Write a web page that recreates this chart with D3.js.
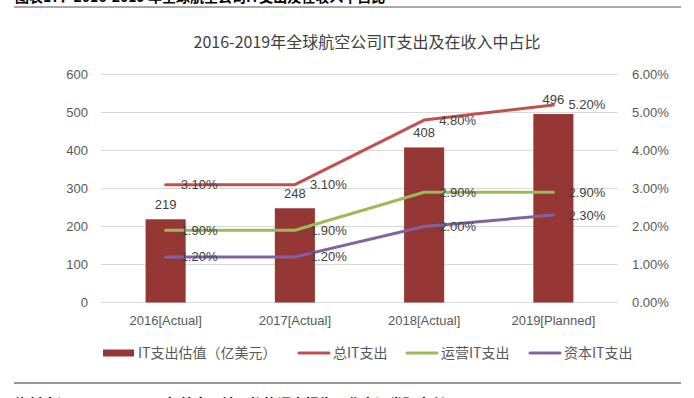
<!DOCTYPE html>
<html>
<head>
<meta charset="utf-8">
<script src="https://cdn.jsdelivr.net/npm/d3@7"></script>
<style>
  body { margin: 0; background: #fff; }
  text { font-family: "Liberation Sans", Arial, sans-serif; }
  .cjk { font-family: "Noto Sans CJK SC", sans-serif; }
</style>
</head>
<body>
<script>
// chart data
const categories = ['2016[Actual]', '2017[Actual]', '2018[Actual]', '2019[Planned]']
const itSpend = [219, 248, 408, 496]        // 亿美元
const totalPct = [3.1, 3.1, 4.8, 5.2]       // 总IT支出
const opPct = [1.9, 1.9, 2.9, 2.9]          // 运营IT支出
const capPct = [1.2, 1.2, 2.0, 2.3]         // 资本IT支出
const leftTicks = [0, 100, 200, 300, 400, 500, 600]
const rightTicks = [0, 1, 2, 3, 4, 5, 6]
const seriesNames = ['IT支出估值（亿美元）', '总IT支出', '运营IT支出', '资本IT支出']

const W = 694, H = 398
const plot = {left: 101, right: 618, top: 74.5, bottom: 302.5}

const svg = d3.select('body').append('svg')
  .attr('width', W).attr('height', H)

// page header / footer rules (cropped report page)
svg.append('text')
  .attr('x', 15).attr('y', 2)
  .attr('class', 'cjk')
  .attr('font-size', 14).attr('font-weight', 'bold').attr('fill', '#000')
  .text('图表17：2016-2019 年全球航空公司IT支出及在收入中占比')
svg.append('line')
  .attr('x1', 14).attr('x2', 681).attr('y1', 7).attr('y2', 7)
  .attr('stroke', '#555').attr('stroke-width', 1.2)
svg.append('line')
  .attr('x1', 14).attr('x2', 681).attr('y1', 383).attr('y2', 383)
  .attr('stroke', '#333').attr('stroke-width', 1.2)
svg.append('text')
  .attr('x', 15).attr('y', 409)
  .attr('class', 'cjk')
  .attr('font-size', 14).attr('font-weight', 'bold').attr('fill', '#000')
  .text('资料来源：SITA，2018 年航空运输IT趋势调查报告，华泰证券研究所')

// title
svg.append('text')
  .attr('x', 367).attr('y', 48)
  .attr('text-anchor', 'middle')
  .attr('class', 'cjk')
  .attr('font-size', 16).attr('fill', '#404040')
  .text('2016-2019年全球航空公司IT支出及在收入中占比')

// scales
const x = d3.scaleBand().domain(categories)
  .range([plot.left, plot.right])
  .paddingInner(0.69).paddingOuter(0.345)
const cx = c => x(c) + x.bandwidth() / 2
const y = d3.scaleLinear().domain([0, 600]).range([plot.bottom, plot.top])
const yr = d3.scaleLinear().domain([0, 6]).range([plot.bottom, plot.top])

// gridlines
svg.append('g').selectAll('line').data(leftTicks).join('line')
  .attr('x1', plot.left).attr('x2', plot.right)
  .attr('y1', d => y(d)).attr('y2', d => y(d))
  .attr('stroke', '#d9d9d9').attr('stroke-width', 1)

// left axis
const axL = svg.append('g')
  .attr('transform', 'translate(' + (plot.left - 13) + ',0)')
  .call(d3.axisLeft(y).tickValues(leftTicks).tickSize(0).tickPadding(0))
axL.select('.domain').remove()
axL.selectAll('text').attr('font-size', 13).attr('fill', '#595959')
  .attr('font-family', '"Liberation Sans", Arial, sans-serif')

// right axis
const axR = svg.append('g')
  .attr('transform', 'translate(' + (plot.right + 14) + ',0)')
  .call(d3.axisRight(yr).tickValues(rightTicks).tickSize(0).tickPadding(0)
    .tickFormat(d => d.toFixed(2) + '%'))
axR.select('.domain').remove()
axR.selectAll('text').attr('font-size', 13).attr('fill', '#595959')
  .attr('font-family', '"Liberation Sans", Arial, sans-serif')

// x axis labels
const axB = svg.append('g')
  .attr('transform', 'translate(0,' + (plot.bottom + 13) + ')')
  .call(d3.axisBottom(x).tickSize(0).tickPadding(0))
axB.select('.domain').remove()
axB.selectAll('text').attr('font-size', 13).attr('fill', '#595959')
  .attr('font-family', '"Liberation Sans", Arial, sans-serif')

// bars
const barColor = '#953735'
svg.append('g').selectAll('rect').data(itSpend).join('rect')
  .attr('x', (d, i) => x(categories[i]))
  .attr('y', d => y(d))
  .attr('width', x.bandwidth())
  .attr('height', d => y(0) - y(d))
  .attr('fill', barColor)

svg.append('g').selectAll('text').data(itSpend).join('text')
  .attr('x', (d, i) => cx(categories[i]))
  .attr('y', d => y(d) - 10)
  .attr('text-anchor', 'middle')
  .attr('font-size', 13).attr('fill', '#404040')
  .text(d => d)

// lines
const lineSeries = [
  {values: totalPct, color: '#C0504D'},
  {values: opPct, color: '#9BBB59'},
  {values: capPct, color: '#8064A2'},
]
const line = d3.line()
  .x((d, i) => cx(categories[i]))
  .y(d => yr(d))

lineSeries.forEach(s => {
  svg.append('path')
    .datum(s.values)
    .attr('d', line)
    .attr('fill', 'none')
    .attr('stroke', s.color)
    .attr('stroke-width', 3)
    .attr('stroke-linecap', 'round')
    .attr('stroke-linejoin', 'round')
})
lineSeries.forEach(s => {
  svg.append('g').selectAll('text').data(s.values).join('text')
    .attr('x', (d, i) => cx(categories[i]) + 15)
    .attr('y', d => yr(d))
    .attr('dy', '0.35em')
    .attr('font-size', 13).attr('fill', '#404040')
    .text(d => d.toFixed(2) + '%')
})

// legend
const legend = [
  {name: seriesNames[0], color: barColor, bar: true, x: 103},
  {name: seriesNames[1], color: '#C0504D', x: 298},
  {name: seriesNames[2], color: '#9BBB59', x: 406},
  {name: seriesNames[3], color: '#8064A2', x: 529},
]
const ly = 353
legend.forEach(l => {
  if (l.bar) {
    svg.append('rect').attr('x', l.x).attr('y', ly - 3.5)
      .attr('width', 31).attr('height', 7).attr('fill', l.color)
  } else {
    svg.append('line').attr('x1', l.x + 1).attr('x2', l.x + 31)
      .attr('y1', ly).attr('y2', ly)
      .attr('stroke', l.color).attr('stroke-width', 3).attr('stroke-linecap', 'round')
  }
  svg.append('text')
    .attr('x', l.x + 35).attr('y', ly).attr('dy', '0.35em')
    .attr('class', 'cjk')
    .attr('font-size', 14).attr('fill', '#595959')
    .text(l.name)
})
</script>
</body>
</html>
